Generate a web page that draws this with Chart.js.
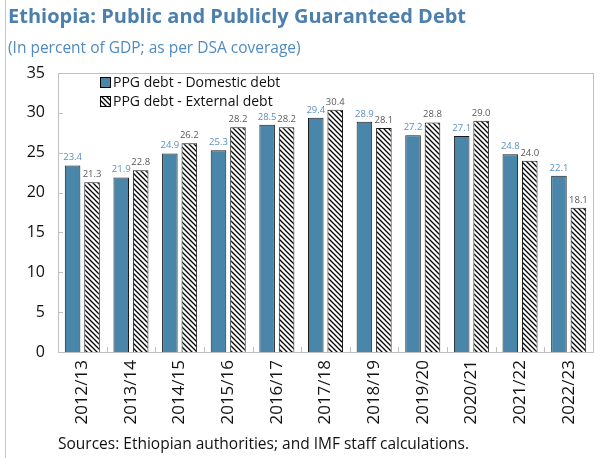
<!DOCTYPE html>
<html>
<head>
<meta charset="utf-8">
<script src="https://cdn.jsdelivr.net/npm/chart.js@4"></script>
<style>
  html, body { margin: 0; padding: 0; background: #fff; }
  #wrap { position: relative; width: 611px; height: 458px; overflow: hidden; font-family: "Open Sans", "Noto Sans", sans-serif; }
  #wrap:before { content: ""; position: absolute; left: 5px; top: 0; bottom: 0; border-left: 1px solid #c8c8c8; }
  #title { position: absolute; left: 8px; top: 2px; font-size: 20px; font-weight: bold; color: #4a7fae; white-space: nowrap; }
  #subtitle { position: absolute; left: 8px; top: 36px; font-size: 15.5px; color: #4f8bc0; white-space: nowrap; }
  #source { position: absolute; left: 58px; top: 432px; font-size: 15.5px; color: #111; white-space: nowrap; }
  canvas { position: absolute; left: 0; top: 0; }
</style>
</head>
<body>
<div id="wrap">
  <canvas id="debtChart" width="611" height="458"></canvas>
  <div id="title">Ethiopia: Public and Publicly Guaranteed Debt</div>
  <div id="subtitle">(In percent of GDP; as per DSA coverage)</div>
  <div id="source">Sources: Ethiopian authorities; and IMF staff calculations.</div>
</div>
<script>
const years = ["2012/13", "2013/14", "2014/15", "2015/16", "2016/17", "2017/18",
               "2018/19", "2019/20", "2020/21", "2021/22", "2022/23"];
const domesticDebt = [23.4, 21.9, 24.9, 25.3, 28.5, 29.4, 28.9, 27.2, 27.1, 24.8, 22.1];
const externalDebt = [21.3, 22.8, 26.2, 28.2, 28.2, 30.4, 28.1, 28.8, 29.0, 24.0, 18.1];
const yTicks = [0, 5, 10, 15, 20, 25, 30, 35];

const FONT = '"Open Sans", "Noto Sans", sans-serif';
const DOMESTIC_BLUE = "#4a86aa";
const FRAME_GREY = "#bfbfbf";

// diagonal hatch for the external debt bars
function makeHatch() {
    const size = 5;
    const tile = document.createElement("canvas");
    tile.width = size;
    tile.height = size;
    const t = tile.getContext("2d");
    t.fillStyle = "#fff";
    t.fillRect(0, 0, size, size);
    t.strokeStyle = "#000";
    t.lineWidth = 1.3;
    t.beginPath();
    t.moveTo(-1, -1);
    t.lineTo(size + 1, size + 1);
    t.moveTo(-1, size - 1);
    t.lineTo(1, size + 1);
    t.moveTo(size - 1, -1);
    t.lineTo(size + 1, 1);
    t.stroke();
    return t.createPattern(tile, "repeat");
}

const ctx = document.getElementById("debtChart").getContext("2d");
const hatch = makeHatch();

// box round the plot, inward ticks on the value axis, short ticks between categories
const plotFrame = {
    id: "plotFrame",
    afterDraw(chart) {
        const { ctx, chartArea: a, scales } = chart;
        ctx.save();
        ctx.strokeStyle = FRAME_GREY;
        ctx.lineWidth = 1;
        ctx.strokeRect(a.left + 0.5, a.top + 0.5, a.right - a.left, a.bottom - a.top);
        ctx.beginPath();
        yTicks.forEach((v) => {
            const y = Math.round(scales.y.getPixelForValue(v)) + 0.5;
            ctx.moveTo(a.left, y);
            ctx.lineTo(a.left + 5, y);
        });
        for (let i = 1; i < years.length; i++) {
            const x = Math.round((scales.x.getPixelForValue(i - 1) + scales.x.getPixelForValue(i)) / 2) + 0.5;
            ctx.moveTo(x, a.bottom);
            ctx.lineTo(x, a.bottom - 5);
        }
        ctx.stroke();
        ctx.restore();
    },
};

// value labels above every bar
const barValues = {
    id: "barValues",
    afterDatasetsDraw(chart) {
        const { ctx } = chart;
        ctx.save();
        ctx.font = "9.5px " + FONT;
        ctx.textAlign = "center";
        ctx.textBaseline = "bottom";
        chart.data.datasets.forEach((ds, di) => {
            ctx.fillStyle = ds.labelColor;
            chart.getDatasetMeta(di).data.forEach((bar, i) => {
                ctx.fillText(ds.data[i].toFixed(1), bar.x, bar.y - 3);
            });
        });
        ctx.restore();
    },
};

// legend sitting inside the plot box, top left
const innerLegend = {
    id: "innerLegend",
    afterDraw(chart) {
        const { ctx, chartArea: a } = chart;
        ctx.save();
        ctx.font = "14px " + FONT;
        ctx.textBaseline = "middle";
        chart.data.datasets.forEach((ds, i) => {
            const x = a.left + 42;
            const y = a.top + 9 + i * 19;
            ctx.fillStyle = ds.backgroundColor;
            ctx.fillRect(x, y - 5, 10, 10);
            ctx.strokeStyle = "#000";
            ctx.lineWidth = 1;
            ctx.strokeRect(x + 0.5, y - 4.5, 10, 10);
            ctx.fillStyle = "#111";
            ctx.fillText(ds.label, x + 13, y + 1);
        });
        ctx.restore();
    },
};

new Chart(ctx, {
    type: "bar",
    data: {
        labels: years,
        datasets: [
            {
                label: "PPG debt - Domestic debt",
                data: domesticDebt,
                backgroundColor: DOMESTIC_BLUE,
                borderColor: "#1a1a1a",
                borderWidth: 1,
                labelColor: "#5b8fc2",
            },
            {
                label: "PPG debt - External debt",
                data: externalDebt,
                backgroundColor: hatch,
                borderColor: "#1a1a1a",
                borderWidth: 1,
                labelColor: "#595959",
            },
        ],
    },
    options: {
        responsive: false,
        animation: false,
        events: [],
        layout: { padding: { top: 73, right: 18, left: 0, bottom: 0 } },
        datasets: { bar: { categoryPercentage: 0.8, barPercentage: 0.8 } },
        plugins: {
            legend: { display: false },
            tooltip: { enabled: false },
        },
        scales: {
            x: {
                grid: { display: false, drawTicks: false },
                border: { display: false },
                ticks: {
                    color: "#111",
                    font: { family: FONT, size: 17 },
                    maxRotation: 90,
                    minRotation: 90,
                    padding: 8,
                },
                afterFit(scale) { scale.height = 106; },
            },
            y: {
                min: 0,
                max: 35,
                grid: { display: false, drawTicks: false },
                border: { display: false },
                afterBuildTicks(scale) { scale.ticks = yTicks.map((v) => ({ value: v })); },
                ticks: {
                    color: "#111",
                    font: { family: FONT, size: 16 },
                    padding: 13,
                },
                afterFit(scale) { scale.width = 58; },
            },
        },
    },
    plugins: [plotFrame, barValues, innerLegend],
});
</script>
</body>
</html>
